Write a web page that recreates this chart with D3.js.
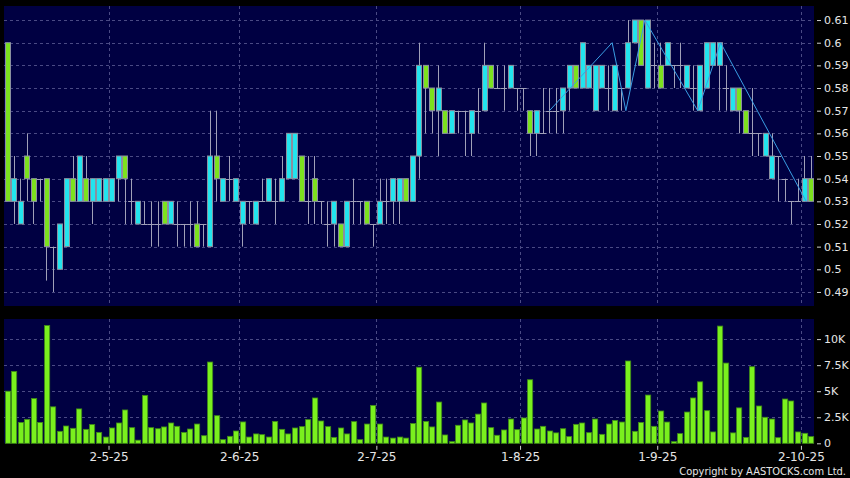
<!DOCTYPE html>
<html>
<head>
<meta charset="utf-8">
<title>Candlestick + Volume</title>
<script src="https://cdn.jsdelivr.net/npm/d3@7"></script>
<style>
  body { margin: 0; background: #000; }
  text { font-family: "DejaVu Sans", sans-serif; fill: #e6e6e6; }
</style>
</head>
<body>
<svg id="chart"></svg>
<script>
// daily bars, 7 Apr 2025 .. 3 Oct 2025 (index based)
var opens  = [.60,.53,.52,.55,.54,.54,.54,.51,.50,.51,.54,.53,.54,.53,.53,.53,.53,.54,.55,.53,
              .52,.52,.52,.52,.53,.52,.52,.52,.52,.52,.52,.51,.55,.53,.54,.53,.52,.53,.52,.53,
              .53,.53,.53,.54,.54,.55,.53,.54,.53,.52,.52,.52,.51,.53,.53,.53,.52,.52,.53,.53,
              .53,.54,.53,.55,.59,.58,.57,.57,.56,.57,.57,.56,.57,.57,.59,.58,.58,.58,.58,.58,
              .57,.56,.56,.57,.57,.57,.58,.59,.58,.58,.57,.58,.58,.57,.58,.58,.60,.61,.58,.59,
              .59,.59,.59,.59,.58,.58,.57,.58,.59,.59,.58,.57,.58,.57,.56,.56,.55,.54,.55,.54,
              .53,.53,.53,.54];
var highs  = [.60,.55,.54,.56,.54,.54,.54,.51,.52,.54,.55,.55,.55,.54,.54,.54,.54,.55,.55,.54,
              .53,.53,.53,.53,.53,.53,.53,.52,.53,.53,.52,.57,.57,.54,.55,.54,.53,.53,.53,.54,
              .54,.54,.55,.56,.56,.55,.55,.55,.53,.53,.53,.52,.53,.54,.53,.53,.52,.54,.54,.54,
              .54,.54,.55,.60,.59,.58,.59,.57,.57,.57,.57,.57,.58,.60,.59,.59,.59,.59,.58,.58,
              .57,.57,.58,.58,.58,.58,.59,.59,.60,.59,.59,.59,.59,.59,.58,.61,.61,.61,.61,.60,
              .60,.60,.59,.60,.59,.59,.59,.60,.60,.60,.59,.58,.58,.57,.58,.56,.56,.56,.55,.54,
              .53,.54,.55,.55];
var lows   = [.53,.52,.52,.53,.52,.53,.495,.49,.50,.51,.53,.53,.53,.52,.53,.53,.53,.53,.52,.52,
              .52,.52,.51,.51,.52,.52,.51,.51,.51,.51,.51,.51,.53,.53,.53,.53,.51,.52,.52,.53,
              .53,.52,.53,.54,.54,.53,.52,.52,.52,.51,.51,.51,.51,.52,.52,.52,.51,.52,.52,.52,
              .52,.53,.53,.54,.56,.56,.55,.56,.56,.56,.55,.55,.56,.57,.58,.58,.57,.58,.57,.57,
              .55,.55,.56,.56,.56,.56,.57,.58,.58,.58,.57,.58,.57,.57,.57,.58,.60,.59,.58,.58,
              .58,.59,.58,.58,.58,.57,.57,.58,.59,.57,.57,.57,.56,.56,.55,.55,.55,.54,.53,.53,
              .52,.53,.53,.53];
var closes = [.53,.54,.53,.54,.53,.54,.51,.51,.52,.54,.53,.55,.53,.54,.54,.54,.54,.55,.54,.53,
              .53,.52,.52,.52,.52,.53,.52,.52,.52,.51,.52,.55,.54,.54,.54,.54,.53,.53,.53,.53,
              .54,.53,.54,.56,.56,.53,.53,.53,.53,.52,.53,.51,.53,.53,.53,.52,.52,.53,.53,.54,
              .54,.53,.55,.59,.58,.57,.58,.56,.57,.57,.57,.57,.57,.59,.58,.58,.58,.59,.58,.58,
              .56,.57,.56,.57,.57,.58,.59,.58,.60,.59,.59,.59,.58,.59,.58,.60,.61,.59,.61,.59,
              .58,.60,.59,.59,.59,.58,.59,.60,.60,.60,.58,.58,.57,.56,.56,.56,.56,.55,.55,.54,
              .53,.53,.54,.53];
// volume in thousands of shares
var volumes = [5.0,6.9,2.0,2.3,4.3,2.0,11.3,3.5,1.15,1.66,1.44,3.3,1.34,1.8,1.05,0.6,1.47,1.95,3.2,1.5,
               0.3,4.6,1.5,1.4,1.57,1.95,1.63,1.05,1.37,1.85,0.73,7.8,2.65,0.35,0.67,1.18,2.05,0.6,0.9,0.83,
               0.6,2.1,1.34,0.9,1.47,1.6,2.27,4.35,2.14,1.6,0.57,1.47,0.9,2.08,0.35,1.85,3.64,1.85,0.6,0.5,
               0.6,0.5,1.9,7.3,2.1,1.57,3.96,0.8,0.16,1.73,2.24,1.95,2.8,3.87,1.5,0.77,1.28,2.33,1.31,2.43,
               6.1,1.37,1.63,1.18,1.0,1.4,0.64,1.82,1.95,1.02,2.33,0.86,1.85,2.2,2.04,7.9,1.15,2.0,4.63,1.63,
               3.1,2.04,0.16,0.93,3.0,4.35,5.9,3.13,1.09,11.25,7.7,1.0,3.4,0.57,7.35,3.58,2.5,2.33,0.54,4.25,
               4.06,1.09,0.96,0.64];
// zigzag indicator turning points: [bar index, price]
var zigIdx   = [83, 92.6, 94.7, 97.6, 105.7, 109.2, 122.3];
var zigPrice = [.57, .60, .57, .61, .57, .60, .53];

// month starts
var monthIdx    = [16, 36, 57, 79, 100, 122];
var monthLabels = ["2-5-25", "2-6-25", "2-7-25", "1-8-25", "1-9-25", "2-10-25"];

var priceTicks = [.49,.50,.51,.52,.53,.54,.55,.56,.57,.58,.59,.60,.61];
var volTicks   = [0, 2.5, 5, 7.5, 10];
var volLabels  = ["0", "2.5K", "5K", "7.5K", "10K"];

var width = 850, height = 478;
var left = 4, right = 814;
var pTop = 6, pBot = 306, vTop = 319, vBot = 443.3;

var svg = d3.select("#chart").attr("width", width).attr("height", height);
svg.append("rect").attr("width", width).attr("height", height).attr("fill", "#000");

var n = closes.length;
var x = d3.scaleLinear().domain([-0.5, n - 0.5]).range([left, right]);
var step = x(1) - x(0);
var y = d3.scaleLinear().domain([0.4838, 0.6162]).range([pBot, pTop]);
var yv = d3.scaleLinear().domain([0, 11.93]).range([vBot, vTop]);

var gridCol = "#4a4a84";

// panels
svg.append("rect").attr("x", left).attr("y", pTop).attr("width", right - left).attr("height", pBot - pTop).attr("fill", "#000042");
svg.append("rect").attr("x", left).attr("y", vTop).attr("width", right - left).attr("height", vBot - vTop).attr("fill", "#000042");

// grid
svg.append("g").selectAll("line").data(priceTicks).enter().append("line")
  .attr("x1", left).attr("x2", right)
  .attr("y1", function(d){ return Math.round(y(d)) + 0.5; })
  .attr("y2", function(d){ return Math.round(y(d)) + 0.5; })
  .attr("stroke", gridCol).attr("stroke-dasharray", "3,3");
svg.append("g").selectAll("line").data(volTicks.slice(1)).enter().append("line")
  .attr("x1", left).attr("x2", right)
  .attr("y1", function(d){ return Math.round(yv(d)) + 0.5; })
  .attr("y2", function(d){ return Math.round(yv(d)) + 0.5; })
  .attr("stroke", gridCol).attr("stroke-dasharray", "3,3");
[[pTop, pBot], [vTop, vBot]].forEach(function(r){
  svg.append("g").selectAll("line").data(monthIdx).enter().append("line")
    .attr("x1", function(d){ return Math.round(x(d - 0.5)) + 0.5; })
    .attr("x2", function(d){ return Math.round(x(d - 0.5)) + 0.5; })
    .attr("y1", r[0]).attr("y2", r[1])
    .attr("stroke", gridCol).attr("stroke-dasharray", "3,3");
});

// candles
var idx = d3.range(n);
var bw = 5;
var cg = svg.append("g");
cg.selectAll("line.wick").data(idx).enter().append("line")
  .attr("class", "wick")
  .attr("x1", function(i){ return Math.round(x(i)) + 0.5; })
  .attr("x2", function(i){ return Math.round(x(i)) + 0.5; })
  .attr("y1", function(i){ return y(highs[i]); })
  .attr("y2", function(i){ return y(lows[i]); })
  .attr("stroke", "#a0a0b8").attr("stroke-width", 1);
cg.selectAll("line.doji").data(idx.filter(function(i){ return opens[i] === closes[i]; })).enter().append("line")
  .attr("class", "doji")
  .attr("x1", function(i){ return x(i) - step / 2; })
  .attr("x2", function(i){ return x(i) + step / 2; })
  .attr("y1", function(i){ return Math.round(y(closes[i])) + 0.5; })
  .attr("y2", function(i){ return Math.round(y(closes[i])) + 0.5; })
  .attr("stroke", "#a0a0b8").attr("stroke-width", 1);
cg.selectAll("rect").data(idx.filter(function(i){ return opens[i] !== closes[i]; })).enter().append("rect")
  .attr("x", function(i){ return Math.round(x(i) - bw / 2) + 0.5; })
  .attr("y", function(i){ return y(Math.max(opens[i], closes[i])); })
  .attr("width", bw)
  .attr("height", function(i){ return Math.abs(y(opens[i]) - y(closes[i])); })
  .attr("fill", function(i){ return closes[i] > opens[i] ? "#22e4ee" : "#7ce21e"; })
  .attr("stroke", "#8a90a0").attr("stroke-width", 1);

// zigzag
var zz = d3.line().x(function(d){ return x(d[0]); }).y(function(d){ return y(d[1]); });
svg.append("path")
  .attr("d", zz(zigIdx.map(function(v, k){ return [v, zigPrice[k]]; })))
  .attr("fill", "none").attr("stroke", "#3a9ee4").attr("stroke-width", 1);

// volume bars
svg.append("g").selectAll("rect").data(idx).enter().append("rect")
  .attr("x", function(i){ return Math.round(x(i) - 2.7) + 0.5; })
  .attr("y", function(i){ return yv(volumes[i]); })
  .attr("width", 5.2)
  .attr("height", function(i){ return vBot - yv(volumes[i]); })
  .attr("fill", "#7af01e").attr("stroke", "#3f8a18").attr("stroke-width", 0.8);

// right axes
var fmt = function(d){ return String(+d.toFixed(2)); };
var ay = svg.append("g").attr("transform", "translate(" + (right + 3) + ",0)")
  .call(d3.axisRight(y).tickValues(priceTicks).tickSize(4).tickPadding(3).tickFormat(fmt));
var av = svg.append("g").attr("transform", "translate(" + (right + 3) + ",0)")
  .call(d3.axisRight(yv).tickValues(volTicks).tickSize(4).tickPadding(3)
        .tickFormat(function(d, k){ return volLabels[k]; }));
[ay, av].forEach(function(g){
  g.select(".domain").remove();
  g.selectAll(".tick line").attr("stroke", "#cfcfcf");
  g.selectAll(".tick text").style("font-size", "11px").attr("fill", "#e6e6e6");
});

// x axis
var ax = svg.append("g").attr("transform", "translate(0," + (vBot + 2.5) + ")")
  .call(d3.axisBottom(x).tickValues(monthIdx.map(function(d){ return d - 0.5; }))
        .tickSize(4).tickPadding(3).tickFormat(function(d, k){ return monthLabels[k]; }));
ax.select(".domain").remove();
ax.selectAll(".tick line").attr("stroke", "#cfcfcf");
ax.selectAll(".tick text").style("font-size", "12px").attr("fill", "#e6e6e6");

svg.append("text").attr("x", 846).attr("y", 475).attr("text-anchor", "end")
  .style("font-size", "11px").style("font-family", "'DejaVu Sans Condensed', 'DejaVu Sans', sans-serif")
  .style("font-stretch", "condensed")
  .text("Copyright by AASTOCKS.com Ltd.");
</script>
</body>
</html>
